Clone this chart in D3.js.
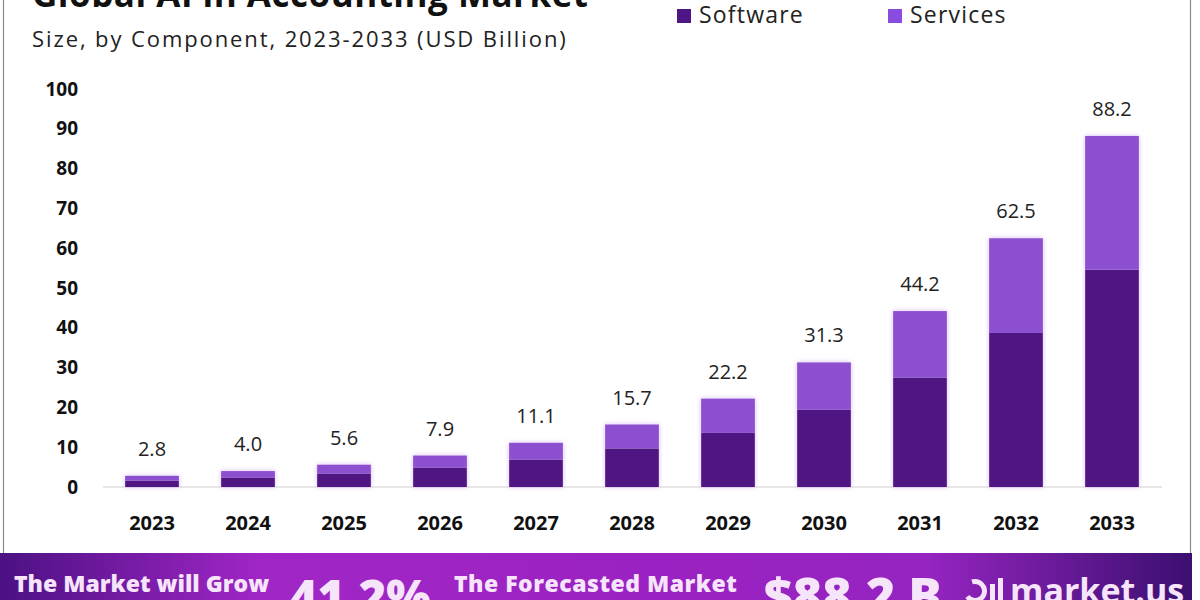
<!DOCTYPE html>
<html>
<head>
<meta charset="utf-8">
<script src="https://cdn.jsdelivr.net/npm/d3@7"></script>
<style>
  body { margin: 0; background: #fff; }
  svg { display: block; font-family: "Open Sans", "Lato", sans-serif; }
</style>
</head>
<body>
<svg id="chart" width="1200" height="600"></svg>
<script>
// values
var years = ['2023', '2024', '2025', '2026', '2027', '2028', '2029', '2030', '2031', '2032', '2033'];
var totals = [2.8, 4.0, 5.6, 7.9, 11.1, 15.7, 22.2, 31.3, 44.2, 62.5, 88.2];
var software = [1.6, 2.4, 3.4, 4.9, 6.9, 9.7, 13.6, 19.4, 27.5, 38.7, 54.6];
var services = [1.2, 1.6, 2.2, 3.0, 4.2, 6.0, 8.6, 11.9, 16.7, 23.8, 33.6];
var seriesNames = ['Software', 'Services'];
var yTicks = [0, 10, 20, 30, 40, 50, 60, 70, 80, 90, 100];

var colors = { Software: '#4f1783', Services: '#8c4fd0' };

var svg = d3.select('#chart');

var rows = years.map(function(y, i){
    return { year: y, Software: software[i], Services: services[i], total: totals[i] };
});

var x = d3.scaleBand()
    .domain(years)
    .range([104, 1160])
    .paddingInner(0.44)
    .paddingOuter(0.22);

var y = d3.scaleLinear()
    .domain([0, 100])
    .range([487, 89]);

// glow under bars
var defs = svg.append('defs');
var glow = defs.append('filter').attr('id', 'glow')
    .attr('x', '-30%').attr('y', '-30%').attr('width', '160%').attr('height', '160%');
glow.append('feDropShadow')
    .attr('dx', 0).attr('dy', 0)
    .attr('stdDeviation', 2.5)
    .attr('flood-color', '#c69af0')
    .attr('flood-opacity', 0.7);

var grad = defs.append('linearGradient').attr('id', 'banner')
    .attr('x1', '0%').attr('x2', '100%').attr('y1', '0%').attr('y2', '0%');
grad.append('stop').attr('offset', '0%').attr('stop-color', '#4c1184');
grad.append('stop').attr('offset', '22%').attr('stop-color', '#a126c6');
grad.append('stop').attr('offset', '55%').attr('stop-color', '#9b22c2');
grad.append('stop').attr('offset', '78%').attr('stop-color', '#9524c0');
grad.append('stop').attr('offset', '100%').attr('stop-color', '#3b0f70');

// frame lines
svg.append('line').attr('x1', 3.5).attr('x2', 3.5).attr('y1', 0).attr('y2', 553)
    .attr('stroke', '#8a8a8a').attr('stroke-width', 1.2);
svg.append('line').attr('x1', 1190.5).attr('x2', 1190.5).attr('y1', 0).attr('y2', 553)
    .attr('stroke', '#8a8a8a').attr('stroke-width', 1.2);

// title (cut off at the top in the reference)
svg.append('text')
    .attr('x', 32).attr('y', 7)
    .attr('font-size', 35).attr('font-weight', 700).attr('fill', '#111')
    .attr('letter-spacing', 0.5)
    .text('Global AI in Accounting Market');

svg.append('text')
    .attr('x', 32).attr('y', 47)
    .attr('font-size', 22).attr('fill', '#222')
    .attr('letter-spacing', 1.9)
    .text('Size, by Component, 2023-2033 (USD Billion)');

// legend
var legendX = [677, 888];
seriesNames.forEach(function(name, i){
    svg.append('rect')
        .attr('x', legendX[i]).attr('y', 9)
        .attr('width', 14).attr('height', 14)
        .attr('fill', i == 0 ? colors.Software : '#8a4be0');
    svg.append('text')
        .attr('x', legendX[i] + 22).attr('y', 23)
        .attr('font-size', 23).attr('fill', '#222')
        .attr('letter-spacing', 1.2)
        .text(name);
});

// y axis
var yAxis = d3.axisLeft(y).tickValues(yTicks).tickSize(0).tickPadding(4);
var gy = svg.append('g')
    .attr('transform', 'translate(82,0)')
    .call(yAxis);
gy.select('.domain').remove();
gy.selectAll('text')
    .attr('font-size', 19).attr('font-weight', 700).attr('fill', '#111')
    .attr('font-family', '"Open Sans", sans-serif');

// baseline
svg.append('line')
    .attr('x1', 103).attr('x2', 1162)
    .attr('y1', y(0)).attr('y2', y(0))
    .attr('stroke', '#cfcfcf').attr('stroke-width', 1);

// x axis
var xAxis = d3.axisBottom(x).tickSize(0).tickPadding(29);
var gx = svg.append('g')
    .attr('transform', 'translate(0,' + y(0) + ')')
    .call(xAxis);
gx.select('.domain').remove();
gx.selectAll('text')
    .attr('font-size', 20).attr('font-weight', 700).attr('fill', '#111')
    .attr('font-family', '"Open Sans", sans-serif');

// stacked bars
var stacked = d3.stack().keys(seriesNames)(rows);
var barG = svg.append('g').attr('filter', 'url(#glow)');
barG.selectAll('g')
    .data(stacked)
    .enter().append('g')
    .attr('fill', function(d){ return colors[d.key]; })
    .selectAll('rect')
    .data(function(d){ return d; })
    .enter().append('rect')
    .attr('x', function(d){ return x(d.data.year); })
    .attr('y', function(d){ return y(d[1]); })
    .attr('width', x.bandwidth())
    .attr('height', function(d){ return y(d[0]) - y(d[1]); });

// totals above bars
svg.append('g').selectAll('text')
    .data(rows)
    .enter().append('text')
    .attr('x', function(d){ return x(d.year) + x.bandwidth() / 2; })
    .attr('y', function(d){ return y(d.total) - 20; })
    .attr('text-anchor', 'middle')
    .attr('font-size', 20).attr('fill', '#222')
    .text(function(d){ return d.total.toFixed(1); });

// bottom banner
svg.append('rect')
    .attr('x', 0).attr('y', 553)
    .attr('width', 1192).attr('height', 47)
    .attr('fill', 'url(#banner)');

var bannerText = '#f6e4fb';
svg.append('text')
    .attr('x', 14).attr('y', 592)
    .attr('font-size', 23).attr('font-weight', 800).attr('fill', bannerText)
    .text('The Market will Grow');
svg.append('text')
    .attr('x', 290).attr('y', 614)
    .attr('font-size', 47).attr('font-weight', 800).attr('fill', bannerText)
    .text('41.2%');
svg.append('text')
    .attr('x', 454).attr('y', 592)
    .attr('font-size', 23).attr('font-weight', 800).attr('fill', bannerText)
    .attr('letter-spacing', 0.5)
    .text('The Forecasted Market');
svg.append('text')
    .attr('x', 764).attr('y', 614)
    .attr('font-size', 50).attr('font-weight', 800).attr('fill', bannerText)
    .text('$88.2 B');

// market.us logo
var logo = svg.append('g').attr('transform', 'translate(962,578)');
logo.append('path')
    .attr('d', d3.arc()({ innerRadius: 7, outerRadius: 12, startAngle: -Math.PI * 0.1, endAngle: Math.PI * 1.3 }))
    .attr('transform', 'translate(13,13)')
    .attr('fill', bannerText);
logo.append('rect').attr('x', 28).attr('y', 6).attr('width', 5).attr('height', 20).attr('fill', bannerText);
logo.append('rect').attr('x', 36).attr('y', 0).attr('width', 5).attr('height', 26).attr('fill', bannerText);
svg.append('text')
    .attr('x', 1010).attr('y', 603)
    .attr('font-size', 34).attr('font-weight', 700).attr('fill', bannerText)
    .text('market.us');
</script>
</body>
</html>
